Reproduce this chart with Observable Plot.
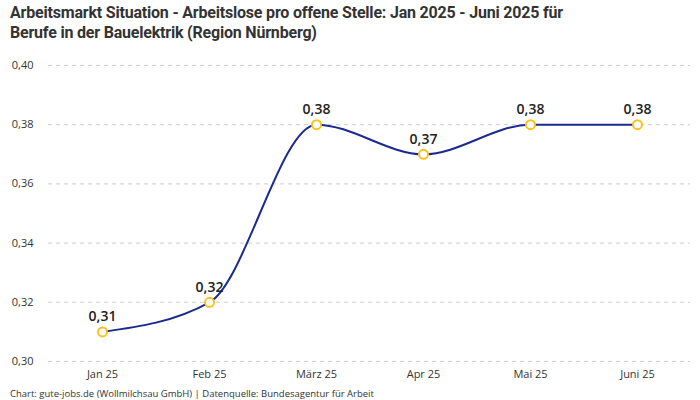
<!DOCTYPE html>
<html><head><meta charset="utf-8">
<script src="https://cdn.jsdelivr.net/npm/d3@7"></script>
<script src="https://cdn.jsdelivr.net/npm/@observablehq/plot@0.6"></script>
<style>
body{margin:0;background:#fff;font-family:Roboto,sans-serif;}
#t{font-family:Roboto,sans-serif;font-weight:700;font-size:16px;line-height:20px;color:#333;padding:3px 0 0 10px;height:42px;letter-spacing:-0.2px;}
#p{height:340px;}
#c{font-family:"Open Sans",sans-serif;font-size:9.5px;color:#333;padding-left:10px;margin-top:2px;}
</style></head><body>
<div id="t">Arbeitsmarkt Situation - Arbeitslose pro offene Stelle: Jan 2025 - Juni 2025 für<br>Berufe in der Bauelektrik (Region Nürnberg)</div>
<div id="p"></div>
<div id="c">Chart: gute-jobs.de (Wollmilchsau GmbH) | Datenquelle: Bundesagentur für Arbeit</div>
<script>
const months = ["Jan 25","Feb 25","März 25","Apr 25","Mai 25","Juni 25"];
const values = [0.31,0.32,0.38,0.37,0.38,0.38];
const yTicks = [0.30,0.32,0.34,0.36,0.38,0.40];
const data = months.map((m,i)=>({m, v: values[i]}));
const de = d3.formatLocale({decimal:",",thousands:".",grouping:[3],currency:["","€"]});
const f2 = de.format(".2f");
const chart = Plot.plot({
  width:700, height:340,
  marginTop:20, marginLeft:48, marginRight:10, marginBottom:24,
  style:{fontFamily:"'Open Sans', sans-serif", fontSize:"11px", color:"#333", display:"block"},
  x:{type:"point", domain:months, padding:0.5, label:null, tickSize:0, tickPadding:9},
  y:{domain:[0.30,0.40], ticks:yTicks, tickFormat:f2, label:null, tickSize:0, tickPadding:15},
  marks:[
    Plot.ruleY(yTicks,{stroke:"#ccc", strokeDasharray:"4,4", strokeWidth:1}),
    Plot.line(data,{x:"m", y:"v", curve:"monotone-x", stroke:"#1a2a8f", strokeWidth:2}),
    Plot.dot(data,{x:"m", y:"v", r:4.5, fill:"#fff", stroke:"#fbc21a", strokeWidth:2}),
    Plot.text(data,{x:"m", y:"v", text:d=>f2(d.v), dy:-15, fontSize:14, fontWeight:600, fill:"#222"})
  ]
});
document.getElementById("p").appendChild(chart);
</script>
</body></html>
